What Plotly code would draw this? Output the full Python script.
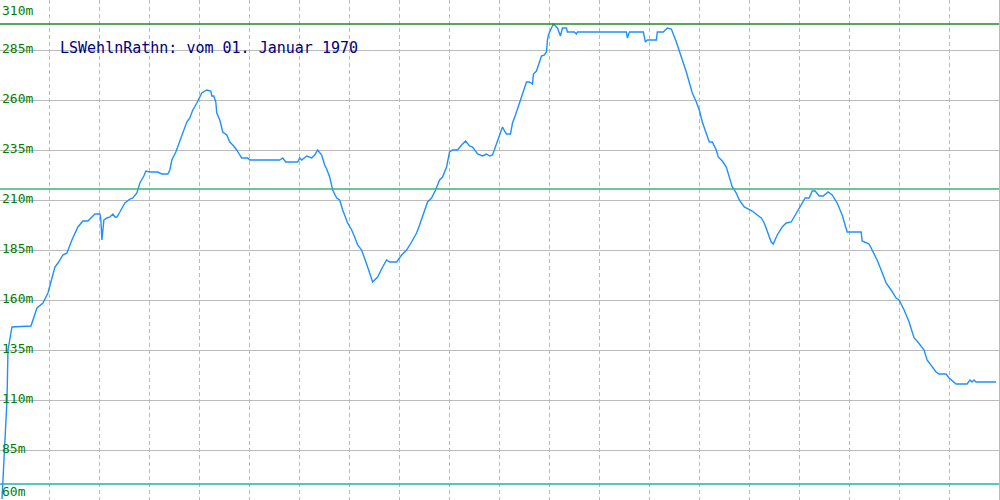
import plotly.graph_objects as go

# Route position (horizontal, arbitrary units) and elevation in metres
distance = [2,3,4,5,6,7,8,11,12,31,37,43,48,55,58,63,67,72,78,83,88,95,100,101,102,104,107,110,113,115,117,120,125,130,133,137,140,144,146,150,158,162,168,170,172,176,180,183,187,190,193,197,200,202,207,211,212,214,216,217,220,223,227,230,233,237,240,242,248,250,280,283,286,298,300,302,307,309,312,315,318,322,325,327,330,333,337,340,343,348,352,355,358,362,365,368,373,378,383,387,390,397,402,407,412,417,420,425,428,432,436,440,443,447,450,453,458,462,466,470,473,478,483,487,490,493,497,500,503,505,507,511,513,516,519,522,525,527,530,533,534,537,540,542,545,547,548,549,552,554,556,558,561,563,567,568,575,577,578,627,628,630,644,646,648,657,658,664,668,672,677,680,683,687,690,693,697,700,703,707,710,713,717,719,723,727,730,733,737,740,745,750,753,758,762,765,768,772,774,778,783,787,792,797,802,806,810,813,816,820,824,829,833,838,843,848,862,863,870,873,878,882,887,892,897,900,905,910,915,918,925,928,933,937,940,947,950,957,968,971,973,975,977,997]
elevation = [60.5,70,75,85,100,110,135,142.5,146.5,147,156,158.5,163.5,176.5,178.5,182.5,183.5,190,196.5,199.5,199.5,203,203,200,190,200,201,201.5,203,201.5,201.5,204,208.5,210.5,211,213.5,218.5,222,224.5,224,224,223,223,225,230,234,239.5,243.5,249,251,255,258.5,261.5,263.5,265,264.5,262,262,259,253.5,250,244,242.5,239,237.5,235,232.5,231,231,230,230,231,229,229,231,230,232,231.5,231,232.5,235,232.5,227.5,225.5,221.5,215,211,210,205,198.5,195,191.5,187.5,185,181,176.5,169,171.5,176.5,180,179,179,182.5,185,189,193.5,197.5,205,209,211,215,220,221.5,226.5,234,235,235,237.5,239.5,237,236.5,233,232,233,232,232.5,238.5,243,246.5,244.5,243,243,248.5,252.5,257.5,261.5,266,269,269,268,273,274.5,279,282,282.5,284,290,292.5,296,298,297,296,292,296,296,294,294,293,294,294,291,294,294,289,290,290,294,294,296,295.5,289,285,280,274,268.5,263.5,259,255,249,243.5,239,239,235,231.5,229.5,226.5,221.5,216.5,213.5,210,206.5,205,204.5,202.5,201,198.5,194,189,188,192.5,196.5,198.5,199,203.5,207.5,211,211,214.5,214.5,212,212,214,212.5,208.5,202.5,194,194,189.5,188,185,180,175,168.5,165,161,160,155,149,141,139.5,135,130,126.5,124,123,123,121,118,118,120,119,120,119,119]

tick_values = [60, 85, 110, 135, 160, 185, 210, 235, 260, 285, 310]
tick_labels = ["60m", "85m", "110m", "135m", "160m", "185m", "210m", "235m", "260m", "285m", "310m"]

max_level = 298
mean_level = 215.5
min_level = 68

title_text = "LSWehlnRathn: vom 01. Januar 1970"

fig = go.Figure()
fig.add_trace(go.Scatter(x=distance, y=elevation, mode="lines",
                         line=dict(color="#1E90FF", width=1.4),
                         hoverinfo="skip", showlegend=False))

for lvl, col in [(max_level, "#228B22"), (mean_level, "#3CB371"), (min_level, "#20B2AA")]:
    fig.add_shape(type="line", xref="paper", x0=0, x1=1, yref="y", y0=lvl, y1=lvl,
                  line=dict(color=col, width=1.3))

mono = "DejaVu Sans Mono"
for v, lab in zip(tick_values, tick_labels):
    if v == tick_values[-1]:
        ya, ys = "top", -1
    elif v == tick_values[0]:
        ya, ys = "bottom", -1
    else:
        ya, ys = "middle", 2
    fig.add_annotation(x=0, xref="paper", xanchor="left", xshift=0,
                       y=v, yref="y", yanchor=ya, yshift=ys,
                       text=lab, showarrow=False,
                       font=dict(family=mono, size=13, color="#008000"))

fig.add_annotation(x=0.058, xref="paper", xanchor="left",
                   y=0.904, yref="paper", yanchor="middle",
                   text=title_text, showarrow=False,
                   font=dict(family=mono, size=15, color="#000080"))

fig.update_layout(
    width=1000, height=500,
    margin=dict(l=0, r=1, t=0, b=0),
    paper_bgcolor="white", plot_bgcolor="white",
    xaxis=dict(range=[0, 1000], dtick=50, tick0=0, showticklabels=False,
               showgrid=True, gridcolor="#BBBBBB", griddash="4px,3px", gridwidth=1,
               zeroline=False, showline=True, linecolor="#BBBBBB", mirror=True, ticks=""),
    yaxis=dict(range=[60, 310], dtick=25, tick0=60, showticklabels=False,
               showgrid=True, gridcolor="#BBBBBB", gridwidth=1,
               zeroline=False, showline=True, linecolor="#BBBBBB", mirror=True, ticks=""),
)

fig.write_html("out.html", config={"displayModeBar": False, "staticPlot": True},
               post_script="document.body.style.margin='0px';document.body.style.overflow='hidden';")
